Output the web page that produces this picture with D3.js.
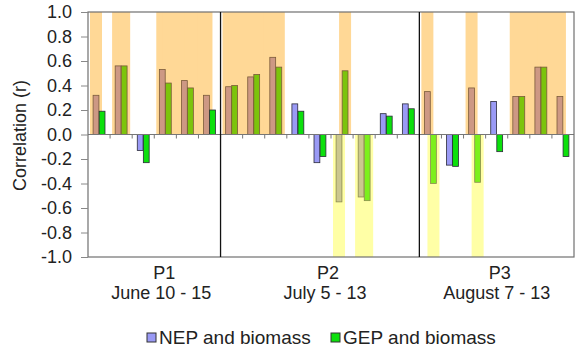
<!DOCTYPE html>
<html>
<head>
<meta charset="utf-8">
<script src="https://cdn.jsdelivr.net/npm/d3@7"></script>
<style>
  body { margin: 0; background: #fff; }
  svg { display: block; font-family: "Liberation Sans", Arial, sans-serif; }
</style>
</head>
<body>
<script>
// days, grouped in three sampling periods
const dayLabels = ["Jun 10", "Jun 11", "Jun 12", "Jun 13", "Jun 14", "Jun 15",
  "Jul 5", "Jul 6", "Jul 7", "Jul 8", "Jul 9", "Jul 10", "Jul 11", "Jul 12", "Jul 13",
  "Aug 7", "Aug 8", "Aug 9", "Aug 10", "Aug 11", "Aug 12", "Aug 13"];
const periods = ["P1", "P2", "P3"];
const periodDates = ["June 10 - 15", "July 5 - 13", "August 7 - 13"];
const periodFirstDay = ["Jun 10", "Jul 5", "Aug 7"];
const periodLastDay = ["Jun 15", "Jul 13", "Aug 13"];

// correlation values
const nep = [0.32, 0.56, -0.13, 0.53, 0.44, 0.32,
  0.39, 0.47, 0.63, 0.25, -0.23, -0.55, -0.51, 0.17, 0.25,
  0.35, -0.25, 0.38, 0.27, 0.31, 0.55, 0.31];
const gep = [0.19, 0.56, -0.23, 0.42, 0.38, 0.20,
  0.40, 0.49, 0.55, 0.19, -0.18, 0.52, -0.54, 0.15, 0.21,
  -0.40, -0.26, -0.39, -0.14, 0.31, 0.55, -0.18];
// 1 = highlighted (significant) bar
const nepSig = [1, 1, 0, 1, 1, 1, 1, 1, 1, 0, 0, 1, 1, 0, 0, 1, 0, 1, 0, 1, 1, 1];
const gepSig = [0, 1, 0, 1, 1, 0, 1, 1, 1, 0, 0, 1, 1, 0, 0, 1, 0, 1, 0, 1, 1, 0];

const yTicks = [-1, -0.8, -0.6, -0.4, -0.2, 0, 0.2, 0.4, 0.6, 0.8, 1];
const seriesNames = ["NEP and biomass", "GEP and biomass"];

const W = 575, H = 349;
const margin = {top: 12, right: 1, bottom: 92, left: 88};

const colors = {
  NEP: {plain: "#9a9af5", pos: "#cd9884", neg: "#cbc78f"},
  GEP: {plain: "#0ce00c", pos: "#7cc40c", neg: "#7cf01c"}
};
const bandPos = "#ffd896", bandNeg = "#ffffa6";

const svg = d3.select("body").append("svg").attr("width", W).attr("height", H);

const x = d3.scaleBand().domain(dayLabels).range([margin.left, W - margin.right]);
const sub = d3.scaleBand().domain(["NEP", "GEP"]).range([0, x.bandwidth()])
  .paddingInner(0.04).paddingOuter(0.84);
const y = d3.scaleLinear().domain([-1, 1]).range([H - margin.bottom, margin.top]);

const bars = [];
dayLabels.forEach((d, i) => {
  bars.push({day: d, i: i, s: "NEP", v: nep[i], sig: nepSig[i]});
  bars.push({day: d, i: i, s: "GEP", v: gep[i], sig: gepSig[i]});
});

// highlight bands behind bars; they join across a day boundary when both neighbours are highlighted
const bandHalf = 6;
const sameSide = (a, b) => (a > 0) === (b > 0);
function bandExtent(b) {
  const c = x(b.day) + sub(b.s) + sub.bandwidth() / 2;
  let x0 = c - bandHalf, x1 = c + bandHalf;
  if (b.s === "NEP" && b.i > 0 && gepSig[b.i - 1] && sameSide(gep[b.i - 1], b.v)) x0 = x(b.day) - 1;
  if (b.s === "GEP" && b.i < dayLabels.length - 1 && nepSig[b.i + 1] && sameSide(nep[b.i + 1], b.v)) {
    x1 = x(b.day) + x.bandwidth() + 1;
  }
  return [Math.max(margin.left, x0), Math.min(W - margin.right, x1)];
}
svg.append("g").selectAll("rect")
  .data(bars.filter(b => b.sig))
  .join("rect")
  .attr("x", b => bandExtent(b)[0])
  .attr("width", b => bandExtent(b)[1] - bandExtent(b)[0])
  .attr("y", b => b.v > 0 ? y(1) : y(0))
  .attr("height", b => b.v > 0 ? y(0) - y(1) : y(-1) - y(0))
  .attr("fill", b => b.v > 0 ? bandPos : bandNeg);

// bars
svg.append("g").selectAll("rect")
  .data(bars)
  .join("rect")
  .attr("x", b => x(b.day) + sub(b.s))
  .attr("width", sub.bandwidth())
  .attr("y", b => y(Math.max(0, b.v)))
  .attr("height", b => Math.abs(y(b.v) - y(0)))
  .attr("fill", b => !b.sig ? colors[b.s].plain : (b.v > 0 ? colors[b.s].pos : colors[b.s].neg))
  .attr("stroke", b => b.sig ? (b.v > 0 ? "#7a5a3a" : "#8a8a50") : "#2a2a3a")
  .attr("stroke-width", 0.8);

// zero line with day ticks
svg.append("line")
  .attr("x1", margin.left).attr("x2", W - margin.right)
  .attr("y1", y(0)).attr("y2", y(0))
  .attr("stroke", "#777").attr("stroke-width", 1);
svg.append("g").selectAll("line")
  .data(dayLabels.slice(1))
  .join("line")
  .attr("x1", d => x(d)).attr("x2", d => x(d))
  .attr("y1", y(0)).attr("y2", y(0) + 4)
  .attr("stroke", "#777");

// frame
svg.append("rect")
  .attr("x", margin.left).attr("y", margin.top)
  .attr("width", W - margin.left - margin.right)
  .attr("height", H - margin.top - margin.bottom)
  .attr("fill", "none").attr("stroke", "#707070").attr("stroke-width", 1.2);

// period dividers
svg.append("g").selectAll("line")
  .data(periodFirstDay.slice(1))
  .join("line")
  .attr("x1", d => x(d)).attr("x2", d => x(d))
  .attr("y1", margin.top).attr("y2", H - margin.bottom)
  .attr("stroke", "#111").attr("stroke-width", 1.3);

// y axis
const yAxis = svg.append("g")
  .attr("transform", `translate(${margin.left},0)`)
  .call(d3.axisLeft(y).tickValues(yTicks).tickSize(7).tickPadding(9)
    .tickFormat(d => d.toFixed(1)));
yAxis.select(".domain").remove();
yAxis.selectAll(".tick line").attr("stroke", "#888");
yAxis.selectAll(".tick text")
  .attr("font-size", 18).attr("fill", "#222")
  .attr("font-family", "'Liberation Sans', Arial, sans-serif");

svg.append("text")
  .attr("transform", `translate(26,${y(0) + 1}) rotate(-90)`)
  .attr("text-anchor", "middle")
  .attr("font-size", 18).attr("fill", "#222")
  .text("Correlation (r)");

// period labels
const labelShift = [10, 8, 3];
periods.forEach((p, i) => {
  const cx = (x(periodFirstDay[i]) + x(periodLastDay[i]) + x.bandwidth()) / 2 + labelShift[i];
  const t = svg.append("text")
    .attr("x", cx).attr("text-anchor", "middle")
    .attr("font-size", 18).attr("fill", "#222");
  t.append("tspan").attr("x", cx).attr("y", 279).text(p);
  t.append("tspan").attr("x", cx - 3).attr("y", 299).text(periodDates[i]);
});

// legend
const legendX = [147, 331];
seriesNames.forEach((name, i) => {
  const key = i === 0 ? "NEP" : "GEP";
  svg.append("rect")
    .attr("x", legendX[i]).attr("y", 333).attr("width", 9).attr("height", 9)
    .attr("fill", colors[key].plain).attr("stroke", "#333").attr("stroke-width", 1);
  svg.append("text")
    .attr("x", legendX[i] + 12).attr("y", 344)
    .attr("font-size", 19).attr("fill", "#222")
    .text(name);
});
</script>
</body>
</html>
